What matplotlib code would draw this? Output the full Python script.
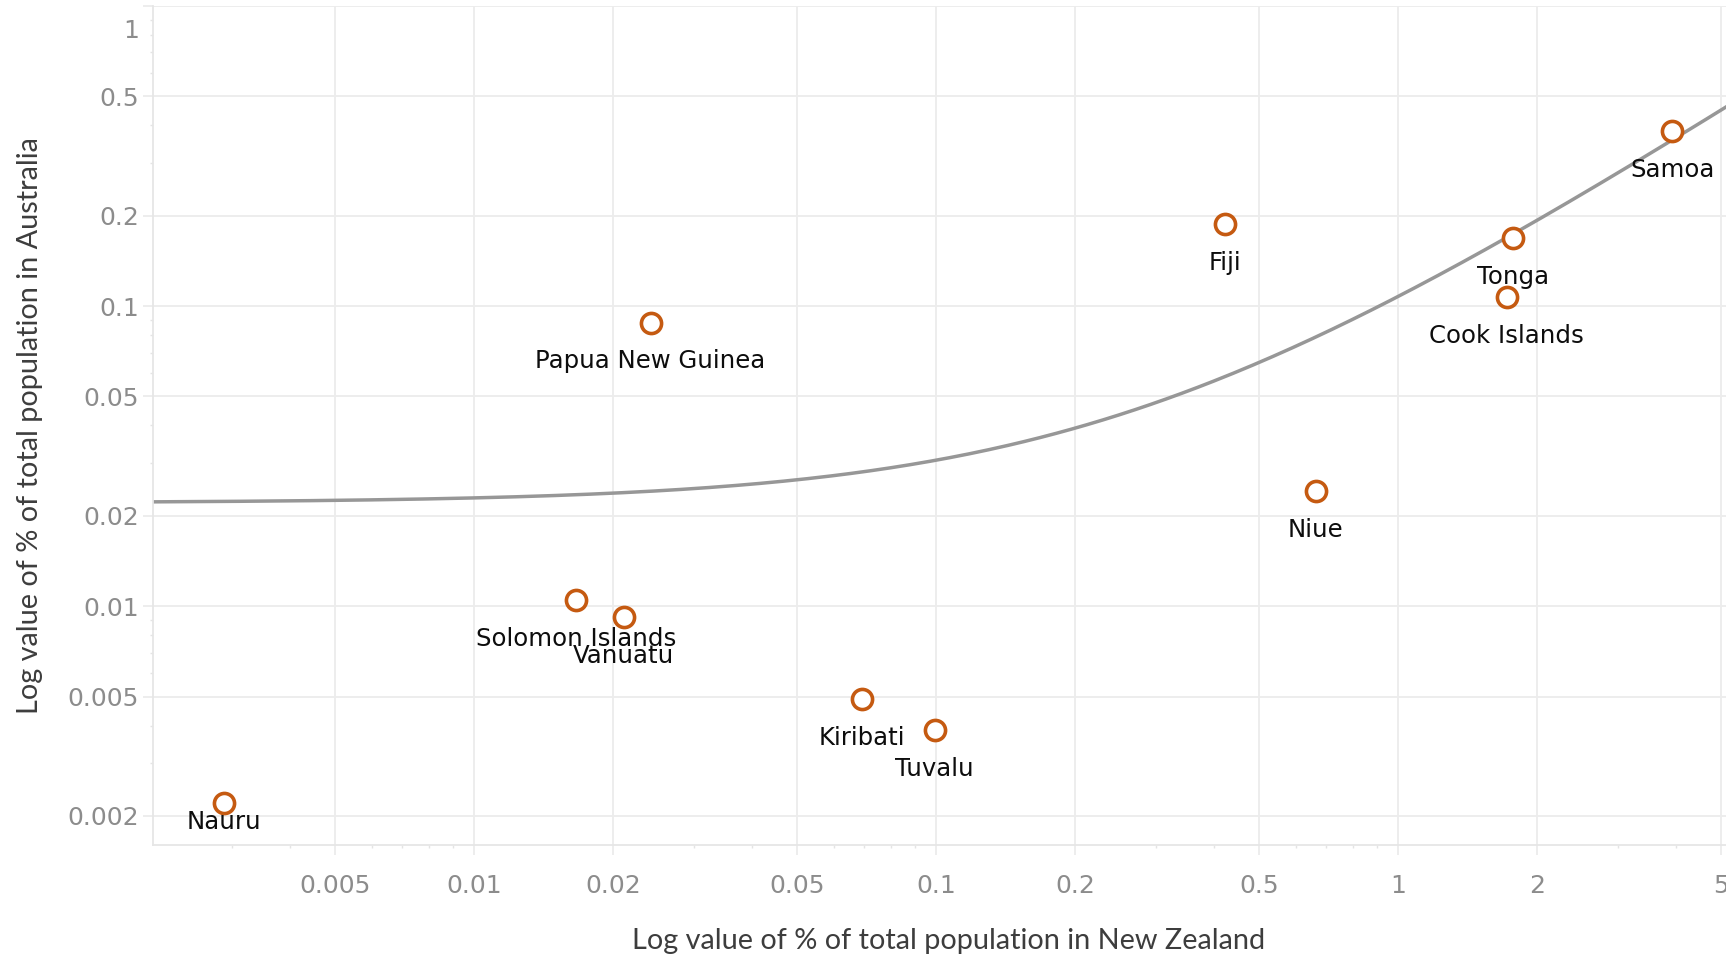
import numpy as np
import matplotlib
matplotlib.use("Agg")
import matplotlib.pyplot as plt
import matplotlib.transforms as mtransforms
from matplotlib.ticker import FixedLocator, FixedFormatter, NullFormatter

# % of total population living in New Zealand / Australia
countries = ["Nauru", "Solomon Islands", "Vanuatu", "Papua New Guinea", "Kiribati",
             "Tuvalu", "Fiji", "Niue", "Tonga", "Cook Islands", "Samoa"]
pct_nz = [0.00288, 0.0166, 0.0211, 0.0241, 0.0692, 0.0993, 0.422, 0.663, 1.77, 1.72, 3.92]
pct_au = [0.00221, 0.01047, 0.00923, 0.0881, 0.0049, 0.00386, 0.188, 0.0242, 0.1687, 0.107, 0.383]

x_ticks = [0.005, 0.01, 0.02, 0.05, 0.1, 0.2, 0.5, 1, 2, 5]
x_labels = ["0.005", "0.01", "0.02", "0.05", "0.1", "0.2", "0.5", "1", "2", "5"]
y_ticks = [0.002, 0.005, 0.01, 0.02, 0.05, 0.1, 0.2, 0.5, 1]
y_labels = ["0.002", "0.005", "0.01", "0.02", "0.05", "0.1", "0.2", "0.5", "1"]

W, H = 1726, 956
fig = plt.figure(figsize=(W / 100, H / 100), dpi=100)
ax = fig.add_axes([153 / W, 1 - 845 / H, (W - 153) / W, (845 - 6) / H])

ax.set_xscale("log")
ax.set_yscale("log")
ax.set_xlim(0.002019, 5.128)
ax.set_ylim(0.0016, 1.0)

grid_c = "#ececec"
ax.xaxis.set_major_locator(FixedLocator(x_ticks))
ax.xaxis.set_major_formatter(FixedFormatter(x_labels))
ax.yaxis.set_major_locator(FixedLocator(y_ticks))
ax.yaxis.set_major_formatter(FixedFormatter(y_labels))
minor_mult = [3, 4, 6, 7, 8, 9]
ax.xaxis.set_minor_locator(FixedLocator([m * 10.0 ** e for e in range(-3, 1) for m in minor_mult]))
ax.yaxis.set_minor_locator(FixedLocator([m * 10.0 ** e for e in range(-3, 0) for m in minor_mult]))
ax.xaxis.set_minor_formatter(NullFormatter())
ax.yaxis.set_minor_formatter(NullFormatter())

ax.grid(True, which="major", color=grid_c, lw=1.3, zorder=0)
ax.tick_params(which="major", length=7, width=1.3, color=grid_c,
               labelsize=18, labelcolor="#8c8c8c")
ax.tick_params(which="minor", length=2.5, width=1.0, color="#e4e4e4")
ax.tick_params(axis="x", which="major", pad=14)
ax.tick_params(axis="y", which="major", pad=3)
for s in ["top", "right"]:
    ax.spines[s].set_visible(False)
for s in ["left", "bottom"]:
    ax.spines[s].set_color("#e6e6e6")
    ax.spines[s].set_linewidth(1.3)

# Tableau nudges the top "1" label down into the pane
yt = ax.yaxis.get_major_ticks(len(y_ticks))
lab = yt[y_ticks.index(1)].label1
lab.set_transform(lab.get_transform() +
                  mtransforms.ScaledTranslation(0, -0.22, fig.dpi_scale_trans))

# linear trend line (fitted on raw values, drawn on log axes)
b, a = np.polyfit(pct_nz, pct_au, 1)
xs = np.logspace(np.log10(0.002019), np.log10(5.128), 400)
ax.plot(xs, a + b * xs, color="#979797", lw=2.5, zorder=2)

ax.plot(pct_nz, pct_au, "o", ms=14.5, mfc="white", mec="#c55a11", mew=2.6,
        linestyle="none", zorder=3)

for name, xv, yv in zip(countries, pct_nz, pct_au):
    dy = -14 if name == "Nauru" else -28
    ax.annotate(name, (xv, yv), xytext=(0, dy), textcoords="offset points",
                ha="center", va="center", fontsize=17.6, color="#0d0d0d", zorder=4)

fig.text(949 / W, 1 - 941 / H, "Log value of % of total population in New Zealand",
         ha="center", va="center", fontsize=20.8, color="#3d3d3d", family="Lato")
fig.text(30 / W, 1 - 426 / H, "Log value of % of total population in Australia",
         ha="center", va="center", rotation=90, fontsize=20.8, color="#3d3d3d", family="Lato")

fig.savefig("out.png", dpi=100)
